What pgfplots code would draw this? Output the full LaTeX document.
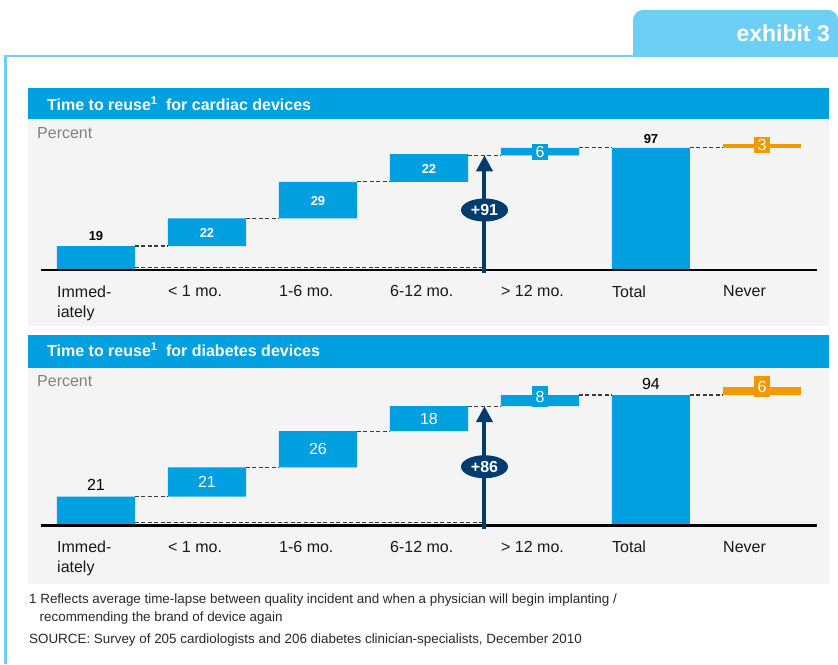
\documentclass[border=0pt]{standalone}
\usepackage{fontspec}
\setmainfont{Liberation Sans}
\usepackage{pgfplots}
\pgfplotsset{compat=1.18}
\usetikzlibrary{arrows.meta,shapes.geometric}

\definecolor{barblue}{RGB}{0,159,223}
\definecolor{tabblue}{RGB}{110,207,246}
\definecolor{navy}{RGB}{0,61,110}
\definecolor{never}{RGB}{243,153,0}
\definecolor{panelgray}{RGB}{244,244,244}
\definecolor{labelgray}{RGB}{128,128,128}
\definecolor{dashgray}{RGB}{60,60,60}
\definecolor{foot}{RGB}{40,40,40}

\pgfplotsset{
  panel/.style={
    scale only axis, width=777pt,
    xmin=-0.5, xmax=6.5, ymin=0, ymax=100,
    clip=false, axis line style={draw=none},
    major tick length=0pt, ytick=\empty,
  },
  bars/.style={
    panel, ybar stacked, bar width=78pt,
    xtick={0,...,6},
    xticklabels={{Immed-\\iately},{< 1 mo.},{1-6 mo.},{6-12 mo.},{> 12 mo.},Total,Never},
    xticklabel style={align=left, anchor=north west, inner sep=0pt,
      xshift=-39pt, yshift=-15.5pt, text=black!90,
      font=\fontsize{16}{20}\selectfont},
  },
  overlay/.style={panel, xtick=\empty, unbounded coords=jump},
  conn/.style={dashgray, line width=1.3pt, dash pattern=on 4pt off 2.5pt},
}
\tikzset{
  boldlab/.style={font=\bfseries\fontsize{13}{16}\selectfont, inner sep=0pt},
  reglab/.style={font=\fontsize{16}{19}\selectfont, inner sep=0pt},
  box/.style={minimum width=16pt, inner sep=0pt, text=white, font=\fontsize{16}{19}\selectfont},
  bubble/.style={ellipse, fill=navy, minimum width=47pt, minimum height=23pt, inner sep=0pt,
    text=white, font=\bfseries\fontsize{16}{19}\selectfont},
}

\begin{document}
\begin{tikzpicture}[x=1pt,y=1pt]
\path[use as bounding box] (0,0) rectangle (838,664);
\fill[white] (0,0) rectangle (838,664);

% exhibit tab and frame
\fill[tabblue] (633,608) [rounded corners=10pt] -- (633,654) -- (838,654) [sharp corners] -- (838,608) -- cycle;
\node[anchor=base east, inner sep=0pt, text=white, font=\bfseries\fontsize{23}{28}\selectfont] at (830,622) {exhibit 3};
\draw[tabblue, line width=2.5pt] (5.5,0) -- (5.5,608) -- (838,608);

% panel backgrounds
\fill[barblue] (28,544.5) rectangle (829,576);
\fill[panelgray] (28,338.3) rectangle (829,544.5);
\node[anchor=base west, inner sep=0pt, text=white, font=\bfseries\fontsize{16}{19}\selectfont]
  at (47,553.3) {Time to reuse\textsuperscript{1}\hspace{4pt} for cardiac devices};
\node[anchor=base west, inner sep=0pt, text=labelgray, font=\fontsize{16}{19}\selectfont]
  at (37,525) {Percent};

\fill[barblue] (28,296.3) rectangle (829,329);
\fill[panelgray] (28,80) rectangle (829,296.3);
\node[anchor=base west, inner sep=0pt, text=white, font=\bfseries\fontsize{16}{19}\selectfont]
  at (47,307.3) {Time to reuse\textsuperscript{1}\hspace{4pt} for diabetes devices};
\node[anchor=base west, inner sep=0pt, text=labelgray, font=\fontsize{16}{19}\selectfont]
  at (37,277.3) {Percent};

% ---------------- cardiac ----------------
\begin{axis}[bars, height=126pt, at={(40.5pt,394pt)}, anchor=south west]
  \addplot[draw=none, fill=none] coordinates {(0,0) (1,19) (2,41) (3,70) (4,91) (5,0) (6,97)};
  \addplot[draw=none, fill=barblue] coordinates {(0,19) (1,22) (2,29) (3,22) (4,6) (5,97) (6,0)};
  \addplot[draw=none, fill=never] coordinates {(0,0) (1,0) (2,0) (3,0) (4,0) (5,0) (6,3)};
\end{axis}
\begin{axis}[overlay, height=126pt, at={(40.5pt,394pt)}, anchor=south west]
  \addplot[conn, line width=0.9pt] coordinates {(0.351,2) (3.5,2)};
  \addplot[conn] coordinates {(0.351,19) (0.649,19) (1,nan) (1.351,41) (1.649,41) (2,nan)
    (2.351,70) (2.649,70) (3,nan) (3.351,91) (3.649,91) (4,nan)
    (4.351,97) (4.649,97) (5,nan) (5.351,97) (5.649,97)};
  \addplot[black, line width=2.5pt] coordinates {(-0.5,0) (6.5,0)};
  \addplot[navy, line width=4pt, -{Triangle[width=16pt,length=16pt]}] coordinates {(3.5,-2.5) (3.5,91)};
  \node[bubble] at (axis cs:3.5,47.6) {+91};
  \node[boldlab, anchor=base, yshift=6pt] at (axis cs:0,19) {19};
  \node[boldlab, text=white] at (axis cs:1,29.5) {22};
  \node[boldlab, text=white] at (axis cs:2,55) {29};
  \node[boldlab, text=white] at (axis cs:3,80) {22};
  \node[box, fill=barblue, minimum height=16pt] at (axis cs:4,93.7) {6};
  \node[boldlab, anchor=base, yshift=4.5pt] at (axis cs:5,97) {97};
  \node[box, fill=never, minimum height=16pt] at (axis cs:6,99.2) {3};
\end{axis}

% ---------------- diabetes ----------------
\begin{axis}[bars, height=139pt, at={(40.5pt,138.3pt)}, anchor=south west]
  \addplot[draw=none, fill=none] coordinates {(0,0) (1,21) (2,42) (3,68) (4,86) (5,0) (6,94)};
  \addplot[draw=none, fill=barblue] coordinates {(0,21) (1,21) (2,26) (3,18) (4,8) (5,94) (6,0)};
  \addplot[draw=none, fill=never] coordinates {(0,0) (1,0) (2,0) (3,0) (4,0) (5,0) (6,6)};
\end{axis}
\begin{axis}[overlay, height=139pt, at={(40.5pt,138.3pt)}, anchor=south west]
  \addplot[conn, line width=0.9pt] coordinates {(0.351,2) (3.5,2)};
  \addplot[conn] coordinates {(0.351,21) (0.649,21) (1,nan) (1.351,42) (1.649,42) (2,nan)
    (2.351,68) (2.649,68) (3,nan) (3.351,86) (3.649,86) (4,nan)
    (4.351,94) (4.649,94) (5,nan) (5.351,94) (5.649,94)};
  \addplot[black, line width=2.5pt] coordinates {(-0.5,0) (6.5,0)};
  \addplot[navy, line width=4pt, -{Triangle[width=16pt,length=16pt]}] coordinates {(3.5,-2.5) (3.5,86)};
  \node[bubble] at (axis cs:3.5,42.4) {+86};
  \node[reglab, anchor=base, yshift=5.6pt] at (axis cs:0,21) {21};
  \node[reglab, text=white] at (axis cs:1,31.5) {21};
  \node[reglab, text=white] at (axis cs:2,55) {26};
  \node[reglab, text=white] at (axis cs:3,77) {18};
  \node[box, fill=barblue, minimum height=21pt] at (axis cs:4,92.6) {8};
  \node[reglab, anchor=base, yshift=6pt] at (axis cs:5,94) {94};
  \node[box, fill=never, minimum height=21pt] at (axis cs:6,99.8) {6};
\end{axis}

% footnotes
\begin{scope}[every node/.style={anchor=base west, inner sep=0pt, text=foot, font=\fontsize{13.4}{16}\selectfont}]
  \node at (29,60) {1 Reflects average time-lapse between quality incident and when a physician will begin implanting /};
  \node at (39.5,42) {recommending the brand of device again};
  \node at (29,20) {SOURCE: Survey of 205 cardiologists and 206 diabetes clinician-specialists, December 2010};
\end{scope}
\end{tikzpicture}
\end{document}
